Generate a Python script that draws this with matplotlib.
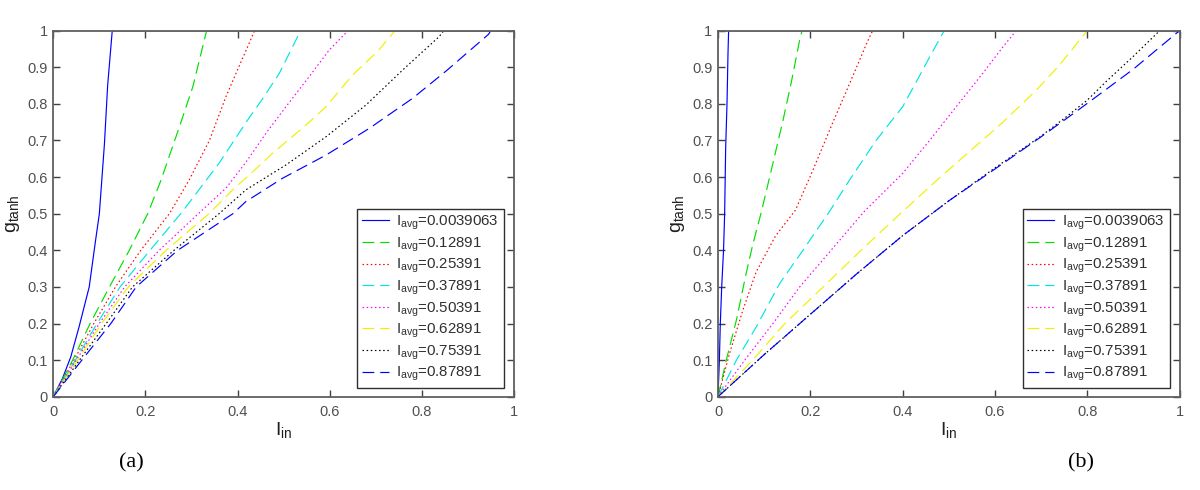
import matplotlib
matplotlib.use("Agg")
import matplotlib.pyplot as plt

plt.rcParams['font.family'] = ['Liberation Sans', 'DejaVu Sans']
plt.rcParams['mathtext.default'] = 'regular'

# ---------------- data ----------------
iavg_labels = ["0.0039063", "0.12891", "0.25391", "0.37891",
               "0.50391", "0.62891", "0.75391", "0.87891"]
colors = ["#0000FF", "#00E000", "#FF0000", "#00E5E5",
          "#FF00FF", "#F0F000", "#000000", "#0000FF"]

x_ticks = [0, 0.2, 0.4, 0.6, 0.8, 1]
x_ticklabels = ["0", "0.2", "0.4", "0.6", "0.8", "1"]
y_ticks = [0, 0.1, 0.2, 0.3, 0.4, 0.5, 0.6, 0.7, 0.8, 0.9, 1]
y_ticklabels = ["0", "0.1", "0.2", "0.3", "0.4", "0.5", "0.6", "0.7", "0.8", "0.9", "1"]

# panel (a)
xa1 = [0, 0.02, 0.038, 0.056, 0.078, 0.091, 0.100, 0.111, 0.118, 0.128, 1.0]
ya1 = [0, 0.05, 0.109, 0.191, 0.30, 0.42, 0.50, 0.69, 0.85, 1.0, 1.0]
xa2 = [0, 0.042, 0.08, 0.122, 0.165, 0.205, 0.234, 0.274, 0.303, 0.328, 0.333, 1.0]
ya2 = [0, 0.1, 0.2, 0.3, 0.4, 0.5, 0.592, 0.738, 0.847, 0.975, 1.0, 1.0]
xa3 = [0, 0.045, 0.088, 0.135, 0.19, 0.252, 0.295, 0.339, 0.375, 0.40, 0.422, 0.437, 1.0]
ya3 = [0, 0.1, 0.2, 0.3, 0.4, 0.5, 0.592, 0.70, 0.82, 0.893, 0.956, 1.0, 1.0]
xa4 = [0, 0.048, 0.095, 0.145, 0.21, 0.28, 0.36, 0.422, 0.455, 0.491, 0.537, 1.0]
ya4 = [0, 0.1, 0.2, 0.3, 0.4, 0.505, 0.638, 0.756, 0.815, 0.884, 1.0, 1.0]
xa5 = [0, 0.05, 0.10, 0.155, 0.23, 0.315, 0.375, 0.418, 0.462, 0.505, 0.556, 0.599, 0.64, 1.0]
ya5 = [0, 0.1, 0.2, 0.3, 0.4, 0.5, 0.57, 0.64, 0.72, 0.792, 0.875, 0.947, 1.0, 1.0]
xa6 = [0, 0.053, 0.105, 0.163, 0.245, 0.338, 0.397, 0.426, 0.476, 0.545, 0.592, 0.65, 0.704, 0.742, 1.0]
ya6 = [0, 0.1, 0.2, 0.3, 0.4, 0.5, 0.574, 0.606, 0.665, 0.738, 0.792, 0.879, 0.943, 1.0, 1.0]
xa7 = [0, 0.057, 0.115, 0.172, 0.262, 0.36, 0.418, 0.505, 0.592, 0.679, 0.759, 0.838, 0.848, 1.0]
ya7 = [0, 0.1, 0.2, 0.3, 0.4, 0.5, 0.565, 0.633, 0.71, 0.797, 0.893, 0.984, 1.0, 1.0]
xa8 = [0, 0.062, 0.125, 0.18, 0.27, 0.39, 0.418, 0.498, 0.592, 0.686, 0.78, 0.856, 0.945, 0.95, 1.0]
ya8 = [0, 0.1, 0.2, 0.3, 0.4, 0.5, 0.533, 0.597, 0.66, 0.733, 0.815, 0.893, 0.99, 1.0, 1.0]

# panel (b)
xb1 = [0, 0.003, 0.005, 0.008, 0.012, 0.0144, 0.0166, 0.0195, 0.0217, 0.023, 1.0]
yb1 = [0, 0.1, 0.2, 0.3, 0.4, 0.5, 0.68, 0.80, 0.94, 1.0, 1.0]
xb2 = [0, 0.018, 0.04, 0.061, 0.076, 0.094, 0.119, 0.141, 0.159, 0.177, 0.182, 1.0]
yb2 = [0, 0.10, 0.21, 0.337, 0.419, 0.505, 0.638, 0.756, 0.86, 0.975, 1.0, 1.0]
xb3 = [0, 0.025, 0.054, 0.083, 0.125, 0.168, 0.206, 0.249, 0.285, 0.321, 0.335, 1.0]
yb3 = [0, 0.118, 0.237, 0.342, 0.44, 0.51, 0.62, 0.75, 0.855, 0.962, 1.0, 1.0]
xb4 = [0, 0.04, 0.083, 0.134, 0.184, 0.24, 0.285, 0.343, 0.40, 0.43, 0.459, 0.49, 1.0]
yb4 = [0, 0.1, 0.191, 0.31, 0.40, 0.503, 0.592, 0.701, 0.792, 0.861, 0.929, 1.0, 1.0]
xb5 = [0, 0.058, 0.119, 0.177, 0.245, 0.316, 0.40, 0.459, 0.516, 0.574, 0.6175, 0.646, 1.0]
yb5 = [0, 0.1, 0.2, 0.3, 0.4, 0.505, 0.61, 0.701, 0.792, 0.884, 0.956, 1.0, 1.0]
xb6 = [0, 0.075, 0.145, 0.228, 0.31, 0.395, 0.473, 0.545, 0.6175, 0.69, 0.74, 0.80, 1.0]
yb6 = [0, 0.1, 0.2, 0.3, 0.4, 0.5, 0.59, 0.67, 0.75, 0.838, 0.906, 1.0, 1.0]
xb7 = [0, 0.1, 0.2, 0.3, 0.4, 0.5, 0.6, 0.7, 0.75, 0.8, 0.841, 0.9, 0.957, 1.0]
yb7 = [0, 0.115, 0.225, 0.335, 0.44, 0.535, 0.625, 0.712, 0.76, 0.81, 0.861, 0.93, 1.0, 1.0]
xb8 = [0, 0.1, 0.2, 0.3, 0.4, 0.5, 0.6, 0.7, 0.776, 0.834, 0.9, 1.0]
yb8 = [0, 0.115, 0.225, 0.335, 0.44, 0.535, 0.622, 0.71, 0.779, 0.833, 0.895, 1.0]

panel_a = [(xa1, ya1), (xa2, ya2), (xa3, ya3), (xa4, ya4),
           (xa5, ya5), (xa6, ya6), (xa7, ya7), (xa8, ya8)]
panel_b = [(xb1, yb1), (xb2, yb2), (xb3, yb3), (xb4, yb4),
           (xb5, yb5), (xb6, yb6), (xb7, yb7), (xb8, yb8)]

# line styles: solid, dashed, dotted, dashed, dotted, dashed, dotted, dashed
dash_long = (10, 5)
dot = (1.3, 2.2)
dash_patterns = [None, dash_long, dot, dash_long, dot, dash_long, dot, dash_long]

# ---------------- figure ----------------
W, H = 1200, 490
fig = plt.figure(figsize=(W / 100, H / 100), dpi=100)
ax_w, ax_h = 460.5, 366.0
ax_bottom = (H - 396.7) / H
ax_a = fig.add_axes([53.3 / W, ax_bottom, ax_w / W, ax_h / H])
ax_b = fig.add_axes([718.0 / W, ax_bottom, 461.5 / W, ax_h / H])

spine_col = "#606060"
for ax, data in ((ax_a, panel_a), (ax_b, panel_b)):
    for (xs, ys), col, dp, lab in zip(data, colors, dash_patterns, iavg_labels):
        line, = ax.plot(xs, ys, color=col, lw=0.85,
                        label=r"I$_{avg}$=" + lab)
        if dp is not None:
            line.set_dashes(dp)
    ax.set_xlim(0, 1)
    ax.set_ylim(0, 1)
    ax.set_xticks(x_ticks)
    ax.set_xticklabels(x_ticklabels)
    ax.set_yticks(y_ticks)
    ax.set_yticklabels(y_ticklabels)
    ax.tick_params(direction="in", top=True, right=True, length=5,
                   width=1, color="#404040", labelsize=10.5,
                   labelcolor="#505050")
    ax.tick_params(axis="x", pad=6)
    ax.tick_params(axis="y", pad=4)
    for s in ax.spines.values():
        s.set_color(spine_col)
        s.set_linewidth(1.3)
    ax.set_xlabel(r"I$_{in}$", fontsize=14, color="#202020")
    ax.set_ylabel(r"g$_{tanh}$", fontsize=14, color="#202020")
    ax.xaxis.set_label_coords(0.5, -0.065)
    ax.yaxis.set_label_coords(-0.068, 0.5)
    leg = ax.legend(loc="upper left", bbox_to_anchor=(0.66, 0.512, 0.319, 0.0),
                    mode="expand", borderaxespad=0, fontsize=10.8,
                    handlelength=1.8, handletextpad=0.5, labelspacing=0.22,
                    borderpad=0.3, fancybox=False, framealpha=1,
                    edgecolor="#303030")
    leg.get_frame().set_linewidth(1.0)
    for t in leg.get_texts():
        t.set_color("#303030")

fig.text(131 / W, 1 - 463 / H, "(a)", family="Liberation Serif",
         fontsize=16, ha="center", va="center")
fig.text(1081 / W, 1 - 463 / H, "(b)", family="Liberation Serif",
         fontsize=16, ha="center", va="center")

fig.savefig("out.png", dpi=100)
